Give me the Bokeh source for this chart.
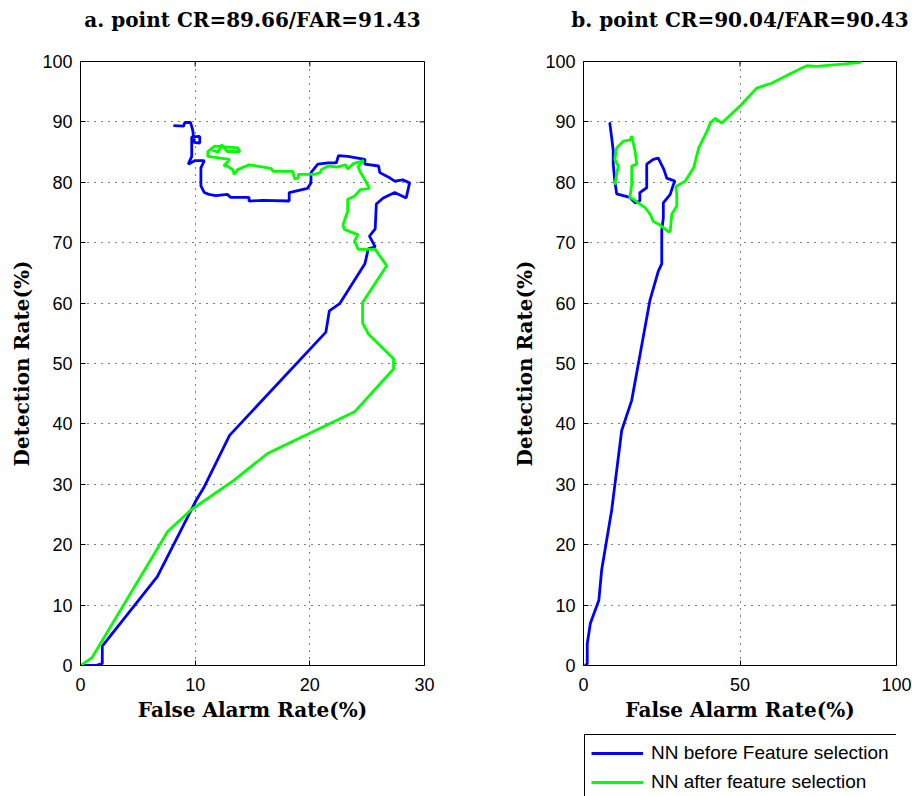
import math
from bokeh.plotting import figure
from bokeh.models import Range1d, Legend, LegendItem, FixedTicker
from bokeh.layouts import row, column
from bokeh.embed import file_html
from bokeh.resources import INLINE

# ---------------- data ----------------
title_a = "a. point CR=89.66/FAR=91.43"
title_b = "b. point CR=90.04/FAR=90.43"
x_label = "False Alarm Rate(%)"
y_label = "Detection Rate(%)"
legend_labels = ["NN before Feature selection", "NN after feature selection"]

a_xticks = [0, 10, 20, 30]
b_xticks = [0, 50, 100]
y_ticks = [0, 10, 20, 30, 40, 50, 60, 70, 80, 90, 100]

# panel a, NN before feature selection (blue)
a_before_far = [0, 1.3, 1.9, 1.9, 6.7, 10.1, 10.8, 13.0, 21.4, 21.7, 22.6, 24.8, 25.1, 25.7,
                25.2, 25.7, 25.8, 26.4, 27.4, 28.4, 28.7, 28.1, 27.4, 27.0, 26.1, 26.0, 24.8,
                24.8, 23.3, 22.5, 22.3, 21.6, 20.7, 20.1, 20.1, 19.8, 18.2, 18.2, 15.9, 14.7,
                14.7, 13.1, 12.8, 11.8, 11.2, 10.8, 10.5, 10.5, 10.8, 10.0, 9.4, 9.7, 9.7,
                10.4, 10.4, 9.9, 9.8, 9.6, 9.1, 9.0, 8.1]
a_before_dr = [0, 0, 0.3, 3.2, 14.7, 27.4, 29.6, 38.1, 55.2, 58.7, 59.9, 66.5, 69.0, 69.3,
               71.1, 72.3, 76.4, 77.4, 78.3, 77.4, 79.9, 80.4, 80.2, 80.7, 81.6, 82.7, 83.0,
               83.8, 84.3, 84.4, 83.2, 83.2, 83.0, 81.6, 79.9, 79.0, 78.3, 76.9, 77.0, 76.9,
               77.5, 77.5, 78.0, 77.8, 78.0, 78.3, 79.4, 82.4, 83.6, 83.6, 83.0, 84.3, 87.5,
               87.6, 86.5, 86.6, 88.5, 89.9, 89.9, 89.3, 89.4]

# panel a, NN after feature selection (green)
a_after_far = [0, 1.0, 7.6, 9.6, 13.4, 16.3, 23.9, 27.3, 27.3, 25.1, 24.6, 24.6, 26.7, 25.7,
               24.2, 23.9, 24.2, 23.0, 22.9, 23.3, 23.3, 23.9, 24.4, 25.2, 24.8, 24.4, 24.2,
               24.7, 23.8, 23.3, 23.1, 22.4, 21.6, 21.0, 20.9, 20.4, 19.0, 19.0, 18.7, 18.5,
               16.8, 16.6, 14.7, 13.7, 13.4, 13.3, 12.8, 12.5, 13.0, 11.1, 11.1, 11.7, 13.7,
               13.9, 12.8, 12.3, 12.0, 11.5]
a_after_dr = [0, 1.3, 22.2, 25.7, 30.7, 35.1, 42.0, 49.1, 50.8, 54.9, 56.7, 60.1, 66.2, 68.9,
              68.9, 70.3, 71.3, 72.2, 73.0, 75.2, 77.2, 77.7, 78.8, 79.0, 80.4, 81.7, 82.6,
              83.6, 83.1, 82.2, 82.9, 82.5, 82.7, 82.1, 81.6, 81.3, 81.3, 80.8, 80.5, 81.8,
              81.8, 82.3, 82.9, 82.1, 81.3, 82.0, 82.7, 82.7, 83.8, 84.3, 85.1, 86.0, 85.7,
              85.1, 85.1, 86.2, 85.0, 85.3]

# panel b, NN before feature selection (blue)
b_before_far = [0.5, 1.2, 1.2, 2.2, 4.9, 5.8, 9.0, 12.2, 15.4, 21.2, 23.9, 25.0, 25.0, 25.5,
                25.5, 27.7, 28.7, 29.2, 26.6, 25.7, 23.9, 22.3, 20.2, 20.2, 18.0, 18.0, 16.5,
                14.8, 12.7, 10.6, 10.0, 9.5, 9.5, 9.0, 8.4, 8.2]
b_before_dr = [0, 0.3, 3.6, 7.0, 10.8, 15.8, 25.7, 38.9, 43.9, 60.4, 65.3, 66.5, 72.0, 74.1,
               76.6, 78.0, 79.6, 80.2, 80.7, 82.1, 84.0, 83.8, 83.0, 79.1, 78.3, 76.9, 76.6,
               77.5, 77.8, 78.1, 80.2, 83.0, 85.2, 87.4, 89.8, 89.9]

# panel b, NN after feature selection (green)
b_after_far = [10.0, 10.6, 11.1, 10.0, 10.6, 12.7, 14.8, 15.4, 16.5, 17.0, 15.4, 15.4, 14.8,
               15.9, 18.0, 19.7, 21.3, 22.3, 23.9, 27.2, 27.7, 28.2, 29.8, 29.8, 29.5, 29.8,
               32.5, 35.2, 36.8, 39.4, 40.5, 42.1, 44.2, 50.3, 55.3, 60.1, 66.5, 71.3, 74.5,
               83.5, 88.9]
b_after_dr = [79.6, 81.3, 82.7, 83.8, 85.7, 86.8, 87.0, 87.6, 85.1, 83.0, 82.7, 79.6, 77.5,
              77.2, 76.4, 75.8, 74.7, 73.5, 73.1, 71.8, 71.9, 74.7, 76.1, 78.0, 79.1, 79.4,
              80.2, 82.4, 85.7, 88.4, 89.8, 90.6, 89.8, 92.8, 95.6, 96.4, 98.1, 99.3, 99.2,
              99.6, 99.9]

BLUE = "#0000ff"
GREEN = "#00ff00"
SERIF = "DejaVu Serif"
SANS = "Liberation Sans"
LW = 2.8


def style_axis(ax, ticks, standoff):
    ax.ticker = FixedTicker(ticks=ticks)
    ax.major_tick_in = 5
    ax.major_tick_out = 0
    ax.minor_tick_in = 0
    ax.minor_tick_out = 0
    ax.axis_line_color = "black"
    ax.major_tick_line_color = "black"
    ax.major_label_text_color = "black"
    ax.major_label_text_font = SANS
    ax.major_label_text_font_size = "18px"
    ax.major_label_standoff = standoff
    ax.axis_label_text_font = SERIF
    ax.axis_label_text_font_style = "bold"
    ax.axis_label_text_font_size = "20px"
    ax.axis_label_text_color = "black"


def make_fig(title, xmax, xticks, frame_w, b_left, b_right, b_bottom):
    p = figure(frame_width=frame_w, frame_height=604,
               x_range=Range1d(0, xmax), y_range=Range1d(0, 100),
               output_backend="svg", toolbar_location=None,
               min_border_left=b_left, min_border_right=b_right,
               min_border_top=61, min_border_bottom=b_bottom)
    # the trailing empty line keeps the title well above the box, as in the reference
    p.title.text = title + "\n"
    p.title.align = "center"
    p.title.vertical_align = "top"
    p.title.text_font = SERIF
    p.title.text_font_style = "bold"
    p.title.text_font_size = "20px"
    p.title.text_color = "black"
    p.title.standoff = 8
    p.outline_line_color = "black"
    p.outline_line_alpha = 1
    p.outline_line_width = 1
    p.background_fill_color = "white"
    p.border_fill_color = "white"

    style_axis(p.xaxis[0], xticks, 12)
    style_axis(p.yaxis[0], y_ticks, 8)
    p.xaxis[0].axis_label = x_label
    p.xaxis[0].axis_label_standoff = 4
    p.yaxis[0].axis_label = y_label
    p.yaxis[0].axis_label_standoff = 5

    # inward tick marks on the top and right edges of the box (MATLAB "box on")
    p.ray(x=xticks, y=[100] * len(xticks), length=5, length_units="screen",
          angle=-math.pi / 2, line_color="black", line_width=1)
    p.ray(x=[xmax] * len(y_ticks), y=y_ticks, length=5, length_units="screen",
          angle=math.pi, line_color="black", line_width=1)

    p.xgrid.ticker = FixedTicker(ticks=xticks)
    p.ygrid.ticker = FixedTicker(ticks=y_ticks)
    for g in (p.xgrid[0], p.ygrid[0]):
        g.grid_line_color = "black"
        g.grid_line_alpha = 1
        g.grid_line_width = 1
        g.grid_line_dash = "1 6"
    return p


pa = make_fig(title_a, 30, a_xticks, 344, 80, 78, 131)
pa.line(a_before_far, a_before_dr, line_color=BLUE, line_width=LW)
pa.line(a_after_far, a_after_dr, line_color=GREEN, line_width=LW)

pb = make_fig(title_b, 100, b_xticks, 313, 81, 16, 62)
pb.line(b_before_far, b_before_dr, line_color=BLUE, line_width=LW)
pb.line(b_after_far, b_after_dr, line_color=GREEN, line_width=LW)

# legend strip under panel b (its own small canvas, so the box is not clipped by panel b)
lf = figure(width=410, height=69, x_range=Range1d(0, 1), y_range=Range1d(0, 1),
            x_axis_type=None, y_axis_type=None, output_backend="svg",
            toolbar_location=None, min_border=0, outline_line_color=None)
lf.xgrid.visible = False
lf.ygrid.visible = False
l1 = lf.line(b_before_far, b_before_dr, line_color=BLUE, line_width=LW, visible=False)
l2 = lf.line(b_after_far, b_after_dr, line_color=GREEN, line_width=LW, visible=False)

legend = Legend(items=[LegendItem(label=legend_labels[0], renderers=[l1]),
                       LegendItem(label=legend_labels[1], renderers=[l2])],
                location=(1, -5))
legend.inactive_fill_alpha = 0
legend.label_text_font = SANS
legend.label_text_font_size = "19px"
legend.label_text_color = "black"
legend.glyph_width = 52
legend.glyph_height = 24
legend.label_height = 24
legend.label_width = 240
legend.label_standoff = 8
legend.padding = 6
legend.spacing = 5
legend.margin = 0
legend.border_line_color = "black"
legend.border_line_width = 1
legend.border_line_alpha = 1
legend.background_fill_color = "white"
legend.background_fill_alpha = 1
legend.click_policy = "none"
lf.add_layout(legend)

layout = row(pa, column(pb, lf))
open("out.html", "w").write(file_html(layout, INLINE))
